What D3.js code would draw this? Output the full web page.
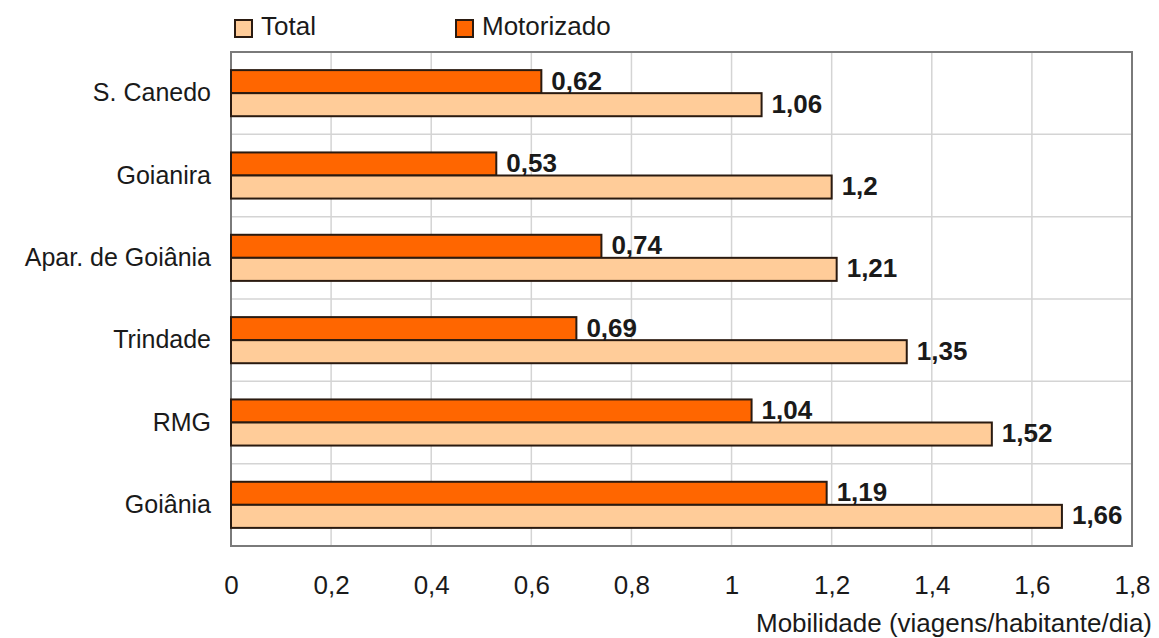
<!DOCTYPE html>
<html>
<head>
<meta charset="utf-8">
<script src="https://cdn.jsdelivr.net/npm/d3@7"></script>
<style>
  html, body { margin: 0; padding: 0; background: #fff; }
  svg { display: block; font-family: "Liberation Sans", Arial, sans-serif; }
</style>
</head>
<body>
<svg id="chart" width="1159" height="638"></svg>
<script>
// Mobilidade por município (viagens/habitante/dia)
const categories = ["S. Canedo", "Goianira", "Apar. de Goiânia", "Trindade", "RMG", "Goiânia"];
const seriesNames = ["Motorizado", "Total"];
const motorizado = [0.62, 0.53, 0.74, 0.69, 1.04, 1.19];
const total = [1.06, 1.2, 1.21, 1.35, 1.52, 1.66];
const xTicks = [0, 0.2, 0.4, 0.6, 0.8, 1, 1.2, 1.4, 1.6, 1.8];
const legendOrder = ["Total", "Motorizado"];
const axisTitle = "Mobilidade (viagens/habitante/dia)";

const colors = { "Motorizado": "#ff6600", "Total": "#ffcc99" };
const ink = "#1a1a1a";
const outline = "#2a1a10";

const rows = categories.map((c, i) => ({
  cat: c,
  values: [
    { key: "Motorizado", value: motorizado[i] },
    { key: "Total", value: total[i] }
  ]
}));

const svg = d3.select("#chart");
const plot = { left: 231, right: 1132, top: 52, bottom: 546 };

const x = d3.scaleLinear().domain([0, 1.8]).range([plot.left, plot.right]);
const y0 = d3.scaleBand().domain(categories).range([plot.top, plot.bottom]).padding(0);
const step = y0.bandwidth();
const y1 = d3.scaleBand().domain(seriesNames).range([step * 0.22, step * 0.78]).padding(0);

const fmt = v => String(v).replace(".", ",");

// gridlines
const grid = svg.append("g");
grid.selectAll("line.v").data(xTicks.slice(1, -1)).join("line")
  .attr("x1", d => x(d)).attr("x2", d => x(d))
  .attr("y1", plot.top).attr("y2", plot.bottom)
  .attr("stroke", "#d4d4d4").attr("stroke-width", 1.5);
grid.selectAll("line.h").data(categories.slice(1)).join("line")
  .attr("x1", plot.left).attr("x2", plot.right)
  .attr("y1", d => y0(d)).attr("y2", d => y0(d))
  .attr("stroke", "#d4d4d4").attr("stroke-width", 1.5);

// plot frame
svg.append("rect")
  .attr("x", plot.left).attr("y", plot.top)
  .attr("width", plot.right - plot.left).attr("height", plot.bottom - plot.top)
  .attr("fill", "none").attr("stroke", "#7a7a7a").attr("stroke-width", 2);

// bars
const groups = svg.append("g").selectAll("g").data(rows).join("g")
  .attr("transform", d => `translate(0,${y0(d.cat)})`);

groups.selectAll("rect").data(d => d.values).join("rect")
  .attr("x", x(0))
  .attr("y", d => y1(d.key))
  .attr("width", d => x(d.value) - x(0))
  .attr("height", y1.bandwidth())
  .attr("fill", d => colors[d.key])
  .attr("stroke", outline).attr("stroke-width", 2);

groups.selectAll("text").data(d => d.values).join("text")
  .attr("x", d => x(d.value) + 10)
  .attr("y", d => y1(d.key) + y1.bandwidth() / 2 + 8)
  .attr("font-size", 26).attr("font-weight", "bold")
  .attr("fill", ink)
  .text(d => fmt(d.value));

// category axis
const yAxis = svg.append("g").attr("transform", `translate(${plot.left},0)`)
  .call(d3.axisLeft(y0).tickSize(0).tickPadding(20));
yAxis.select(".domain").remove();
yAxis.selectAll("text")
  .attr("font-size", 25).attr("fill", ink)
  .attr("font-family", "'Liberation Sans', Arial, sans-serif");

// value axis
const xAxis = svg.append("g").attr("transform", `translate(0,${plot.bottom})`)
  .call(d3.axisBottom(x).tickValues(xTicks).tickSize(0).tickPadding(30).tickFormat(fmt));
xAxis.select(".domain").remove();
xAxis.selectAll("text")
  .attr("font-size", 26).attr("fill", ink)
  .attr("font-family", "'Liberation Sans', Arial, sans-serif");

svg.append("text")
  .attr("x", 1152).attr("y", 632)
  .attr("text-anchor", "end")
  .attr("font-size", 26).attr("fill", ink)
  .text(axisTitle);

// legend
const legendX = { "Total": 235, "Motorizado": 456 };
const legend = svg.append("g").selectAll("g").data(legendOrder).join("g")
  .attr("transform", d => `translate(${legendX[d]},20)`);
legend.append("rect")
  .attr("width", 17).attr("height", 17)
  .attr("fill", d => colors[d])
  .attr("stroke", outline).attr("stroke-width", 2);
legend.append("text")
  .attr("x", 26).attr("y", 15)
  .attr("font-size", 26).attr("fill", ink)
  .text(d => d);
</script>
</body>
</html>
